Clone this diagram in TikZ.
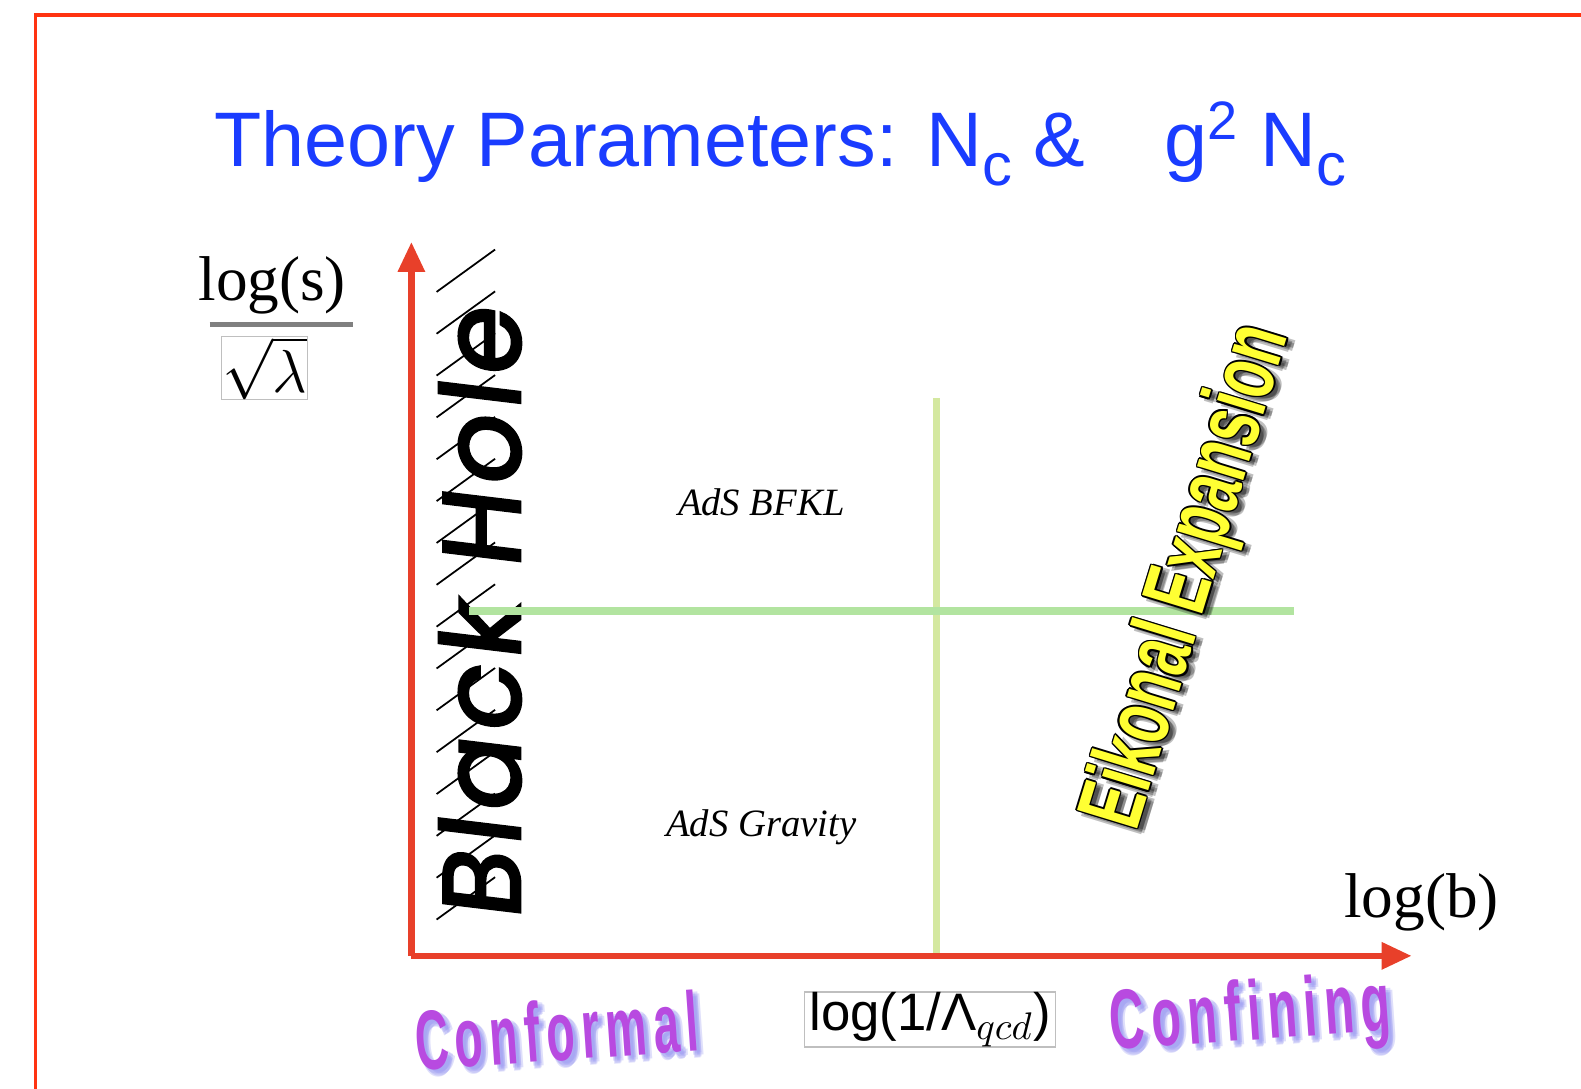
\documentclass[tikz,border=0pt]{standalone}
\usepackage[no-math]{fontspec}
\setmainfont{Liberation Serif}
\setsansfont{Liberation Sans}
\newfontfamily\handfont[FakeSlant=0.12,FakeBold=3,LetterSpace=6]{Poppins}
\newfontfamily\regimefont[LetterSpace=14]{Liberation Sans}
\usepackage{tikz}
\usetikzlibrary{positioning,arrows.meta}
\definecolor{framered}{RGB}{255,51,17}
\definecolor{axisred}{RGB}{232,64,42}
\definecolor{titleblue}{RGB}{26,60,255}
\definecolor{hguide}{RGB}{178,228,160}
\definecolor{vguide}{RGB}{212,232,160}
\definecolor{regimepurple}{RGB}{184,74,224}
\definecolor{regimeshadow}{RGB}{150,150,240}
\definecolor{eikyellow}{RGB}{255,255,51}
\newcommand{\titlesub}[1]{\raisebox{-0.25em}{\fontsize{17}{17}\selectfont #1}}

\begin{document}
\begin{tikzpicture}[
    x=1.0083cm,y=1.0083cm,
    axis/.style={axisred,line width=1.8pt,-{Triangle[width=0.26cm,length=0.3cm]}},
    hatch/.style={black,line width=0.5pt},
    guide/.style={line width=2pt},
    title/.style={font=\sffamily\fontsize{22}{26}\selectfont,text=titleblue,inner sep=0pt},
    region/.style={font=\fontsize{11}{13}\selectfont\itshape,inner sep=0pt},
    bigserif/.style={font=\fontsize{18}{20}\selectfont,inner sep=1pt},
    thinbox/.style={draw=black!25,line width=0.4pt,inner sep=0pt},
    hole/.style={font=\handfont\fontsize{31}{33}\selectfont,rotate=90,inner sep=0pt},
    regime/.style={font=\regimefont\bfseries\fontsize{24}{27}\selectfont,rotate=4,xscale=0.55,inner sep=0pt},
    eik/.style={font=\sffamily\bfseries\fontsize{26}{30}\selectfont,rotate=73,xscale=0.64,inner sep=0pt}
  ]
    \useasboundingbox (0,0) rectangle (15.68,10.80);
    \draw[framered,line width=1pt] (0.35,0) -- (0.35,10.65) -- (15.68,10.65);

    \node[title,anchor=base west] (title) at (2.12,9.15)
      {Theory Parameters: N\titlesub{c} \&\hspace{0.75em} g\textsuperscript{2} N\titlesub{c}};

    % axes
    \coordinate (origin) at (4.08,1.32);
    \coordinate (ytip) at (4.08,8.40);
    \coordinate (xtip) at (14.0,1.32);

    % black hole strip
    \foreach \i in {0,...,15}
      \draw[hatch] (4.33,1.68+0.415*\i) -- ++(0.58,0.42);
    \node[hole] (blackhole) at (4.76,4.70) {Black Hole};

    % guide lines
    \coordinate (hl) at (4.65,4.74);
    \coordinate (hr) at (12.83,4.74);
    \coordinate (vt) at (9.29,6.85);
    \coordinate (vb) at (9.29,1.32);
    \draw[guide,vguide] (vt) -- (vb);
    \draw[guide,hguide] (hl) -- (hr);

    \draw[axis] (origin) -- (ytip);
    \draw[axis] (origin) -- (xtip);

    \node[region] (bfkl) at (7.55,5.82) {AdS BFKL};
    \node[region] (gravity) at (7.55,2.60) {AdS Gravity};

    % axis labels
    \node[bigserif] (logs) at (2.70,7.97) {log(s)};
    \coordinate (fracl) at (2.08,7.58);
    \coordinate (fracr) at (3.50,7.58);
    \draw[black!50,line width=1.5pt] (fracl) -- (fracr);
    \node[thinbox,minimum width=0.86cm,minimum height=0.6cm,font=\fontsize{18}{20}\selectfont] (lam) at (2.625,7.15) {$\sqrt{\lambda}$};
    \node[bigserif] (logb) at (14.10,1.85) {log(b)};
    \node[thinbox,minimum width=2.51cm,minimum height=0.53cm,font=\fontsize{15}{17}\selectfont] (qcd) at (9.225,0.69)
      {\textsf{log(1/Λ}$_{qcd}$\textsf{)}};

    % regimes
    \foreach \dx/\dy [count=\k] in {0.03/-0.04,0.05/-0.06,0.07/-0.04,0.05/-0.02,0.04/-0.07}
    {
      \node[regime,text=regimeshadow,opacity=0.3] (confsh\k) at (5.52+\dx,0.58+\dy) {Conformal};
      \node[regime,xscale=1.05,text=regimeshadow,opacity=0.3] (confish\k) at (12.40+\dx,0.70+\dy) {Confining};
    }
    \node[regime,text=regimepurple] (conformal) at (5.52,0.58) {Conformal};
    \node[regime,xscale=1.05,text=regimepurple] (confining) at (12.40,0.70) {Confining};

    % eikonal label
    \foreach \dx/\dy [count=\k] in {0.05/-0.03,0.07/-0.05,0.08/-0.02,0.04/-0.06}
      \node[eik,text=black,opacity=0.25] (eiksh\k) at (11.80+\dx,5.08+\dy) {Eikonal Expansion};
    \foreach \dx/\dy [count=\k] in {0.015/0,-0.015/0,0/0.015,0/-0.015,0.011/0.011,-0.011/0.011,0.011/-0.011,-0.011/-0.011}
      \node[eik,text=black] (eikol\k) at (11.80+\dx,5.08+\dy) {Eikonal Expansion};
    \node[eik,text=eikyellow] (eikonal) at (11.80,5.08) {Eikonal Expansion};
\end{tikzpicture}
\end{document}
